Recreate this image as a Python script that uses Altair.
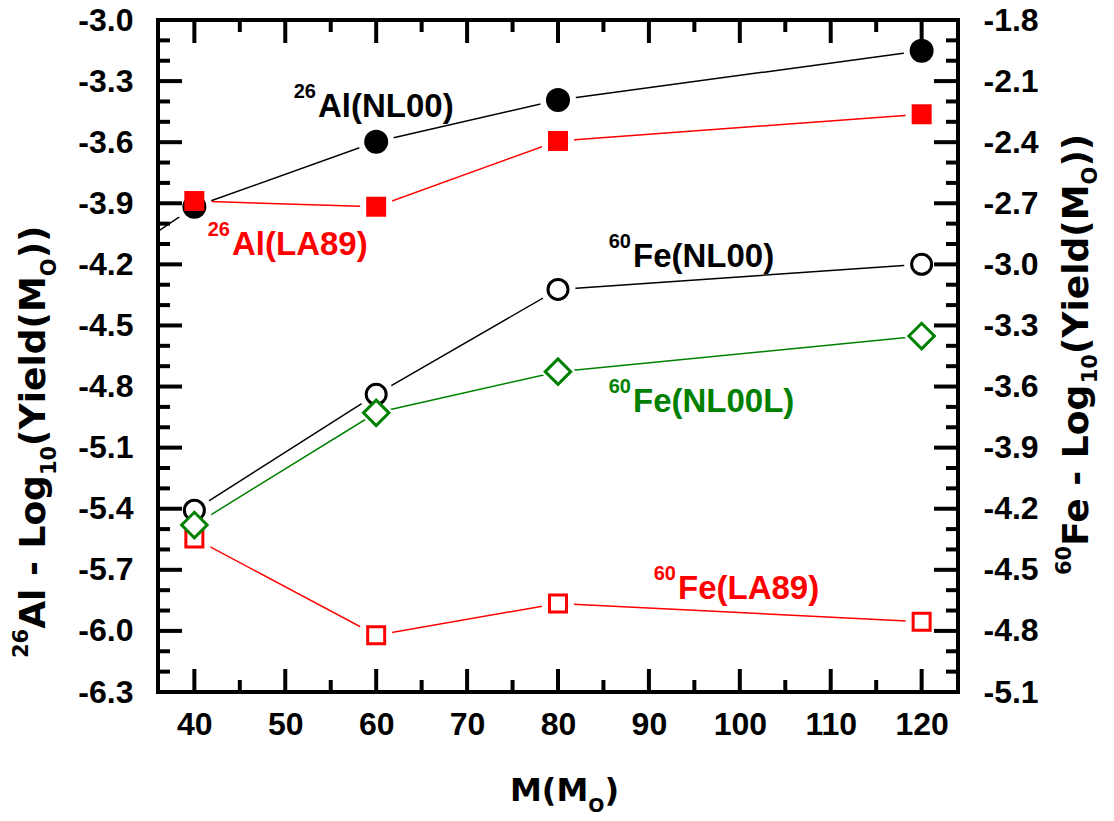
import altair as alt
import pandas as pd

# ---------------- data ----------------
mass = [40, 60, 80, 120]
al_nl00 = [-3.917, -3.598, -3.393, -3.151]
al_la89 = [-3.889, -3.917, -3.594, -3.463]
fe_nl00 = [-4.207, -3.638, -3.123, -3.000]
fe_nl00l = [-4.280, -3.729, -3.527, -3.352]
fe_la89 = [-4.346, -4.821, -4.665, -4.755]
# the 26Al(NL00) curve continues to a lighter star outside the plotted range
al_nl00_lead_mass = [30]
al_nl00_lead = [-4.22]

x_labels = [40, 50, 60, 70, 80, 90, 100, 110, 120]
x_minor = [45, 55, 65, 75, 85, 95, 105, 115]
al_labels = [-6.3, -6.0, -5.7, -5.4, -5.1, -4.8, -4.5, -4.2, -3.9, -3.6, -3.3, -3.0]
fe_labels = [-5.1, -4.8, -4.5, -4.2, -3.9, -3.6, -3.3, -3.0, -2.7, -2.4, -2.1, -1.8]
al_minor = [round(v + d, 1) for v in al_labels[:-1] for d in (0.1, 0.2)]

ann_sup = ["26", "26", "60", "60", "60"]
ann_main = ["Al(NL00)", "Al(LA89)", "Fe(NL00)", "Fe(NL00L)", "Fe(LA89)"]
ann_mass = [53.6, 44.14, 88.25, 88.25, 93.2]
ann_y = [-3.476, -4.154, -4.213, -4.925, -5.843]

# ---------------- style / layout ----------------
W, H = 800, 672
FONT = "Liberation Sans"
TFONT = "DejaVu Sans"
BLACK, RED, GREEN = "#000000", "#ff0000", "#008000"

al_line = pd.DataFrame({
    "series": ["NL00"] * (len(mass) + 1) + ["LA89"] * len(mass),
    "mass": al_nl00_lead_mass + mass + mass,
    "value": al_nl00_lead + al_nl00 + al_la89,
})
fe_line = pd.DataFrame({
    "series": ["NL00"] * 4 + ["LA89"] * 4 + ["NL00L"] * 4,
    "mass": mass * 3,
    "value": fe_nl00 + fe_la89 + fe_nl00l,
})


def pts(values):
    return pd.DataFrame({"mass": mass, "value": values})


ann = pd.DataFrame({"sup": ann_sup, "main": ann_main, "mass": ann_mass, "y": ann_y,
                    "key": ["a", "b", "c", "d", "e"]})

xs = alt.Scale(domain=[36, 124], nice=False, zero=False)
ys_al = alt.Scale(domain=[-6.3, -3.0], nice=False, zero=False)
ys_fe = alt.Scale(domain=[-5.1, -1.8], nice=False, zero=False)

lab_expr = "replace(format(datum.value, '.1f'), '\u2212', '-')"
common_axis = dict(labelFont=FONT, labelFontWeight="bold", labelFontSize=32,
                   labelColor="black", ticks=False, domain=False, grid=False,
                   labelFlush=False, labelOverlap=False)
xaxis = alt.Axis(values=x_labels, labelPadding=17, labelAngle=0, **common_axis)
left_axis = alt.Axis(orient="left", values=al_labels, labelExpr=lab_expr,
                     labelPadding=25, **common_axis)
right_axis = alt.Axis(orient="right", values=fe_labels, labelExpr=lab_expr,
                      labelPadding=25, **common_axis)


def X(field="mass:Q"):
    return alt.X(field, scale=xs, axis=xaxis, title=None)


# lines
al_lines = alt.Chart(al_line).mark_line(strokeWidth=1.5, clip=True).encode(
    x=X(), y=alt.Y("value:Q", scale=ys_al, axis=left_axis, title=None),
    color=alt.Color("series:N", scale=alt.Scale(domain=["NL00", "LA89"], range=[BLACK, RED]),
                    legend=None),
    order="mass:Q")
fe_lines = alt.Chart(fe_line).mark_line(strokeWidth=1.5, clip=True).encode(
    x=X(), y=alt.Y("value:Q", scale=ys_fe, axis=right_axis, title=None),
    color=alt.Color("series:N", scale=alt.Scale(domain=["NL00", "LA89", "NL00L"],
                                                range=[BLACK, RED, GREEN]), legend=None),
    order="mass:Q")


def halo(values, yscale, shape, size):
    return alt.Chart(pts(values)).mark_point(
        filled=True, color="white", opacity=1, shape=shape, size=size).encode(
        x=X(), y=alt.Y("value:Q", scale=yscale, axis=None))


def solid(values, yscale, shape, size, color):
    return alt.Chart(pts(values)).mark_point(
        filled=True, color=color, opacity=1, shape=shape, size=size).encode(
        x=X(), y=alt.Y("value:Q", scale=yscale, axis=None))


def hollow(values, yscale, shape, size, color):
    return alt.Chart(pts(values)).mark_point(
        filled=False, stroke=color, fill="white", strokeWidth=3, opacity=1,
        shape=shape, size=size).encode(
        x=X(), y=alt.Y("value:Q", scale=yscale, axis=None))


halos = [
    halo(al_nl00, ys_al, "circle", 1296), halo(al_la89, ys_al, "square", 1024),
    halo(fe_nl00, ys_fe, "circle", 1225), halo(fe_la89, ys_fe, "square", 1024),
    halo(fe_nl00l, ys_fe, "diamond", 1300),
]
symbols = [
    solid(al_nl00, ys_al, "circle", 576, BLACK), solid(al_la89, ys_al, "square", 400, RED),
    hollow(fe_nl00, ys_fe, "circle", 400, BLACK), hollow(fe_la89, ys_fe, "square", 289, RED),
    hollow(fe_nl00l, ys_fe, "diamond", 650, GREEN),
]

# inward ticks on all four sides
ymaj = pd.DataFrame({"v": al_labels})
ymin = pd.DataFrame({"v": al_minor})
xmaj = pd.DataFrame({"v": x_labels})
xmin = pd.DataFrame({"v": x_minor})
TW = 4


def yticks(df, x0, x1):
    return alt.Chart(df).mark_rule(strokeWidth=TW, color="black").encode(
        y=alt.Y("v:Q", scale=ys_al, axis=None), x=alt.value(x0), x2=alt.value(x1))


def xticks(df, y0, y1):
    return alt.Chart(df).mark_rule(strokeWidth=TW, color="black").encode(
        x=X("v:Q"), y=alt.value(y0), y2=alt.value(y1))


ticks = [
    yticks(ymaj, 0, 24), yticks(ymin, 0, 12), yticks(ymaj, W - 24, W), yticks(ymin, W - 12, W),
    xticks(xmaj, 0, 23), xticks(xmin, 0, 12), xticks(xmaj, H, H - 23), xticks(xmin, H, H - 12),
]

# curve labels
ann_color = alt.Color("key:N", scale=alt.Scale(domain=["a", "b", "c", "d", "e"],
                                               range=[BLACK, RED, BLACK, GREEN, RED]), legend=None)
ann_main_l = alt.Chart(ann).mark_text(font=FONT, fontWeight="bold", fontSize=33, align="left",
                                      baseline="alphabetic").encode(
    x=X(), y=alt.Y("y:Q", scale=ys_al, axis=None), text="main:N", color=ann_color)
ann_sup_l = alt.Chart(ann).mark_text(font=FONT, fontWeight="bold", fontSize=20, align="right",
                                     baseline="alphabetic", dx=-2, dy=-19).encode(
    x=X(), y=alt.Y("y:Q", scale=ys_al, axis=None), text="sup:N", color=ann_color)

# axis titles with super/subscripts, laid out piece by piece
DV = {' ': .348, '-': .415, '(': .457, ')': .457, '0': .696, '1': .696, '2': .696, '6': .696,
      'A': .774, 'F': .683, 'L': .637, 'M': .995, 'O': .850, 'Y': .724, 'd': .716, 'e': .678,
      'g': .716, 'i': .343, 'l': .343, 'o': .687}


def tw(s, fs):
    return sum(DV[c] for c in s) * fs


rows = []


def vtitle(pieces, bx, by, fm=36, fsm=21, up=17, down=11):
    cum = 0.0
    for txt, kind in pieces:
        fs = fm if kind == "main" else fsm
        off = -up if kind == "sup" else (down if kind == "sub" else 0)
        rows.append({"text": txt, "px": bx + off, "py": by - cum, "fs": fs, "ang": 270})
        cum += tw(txt, fs)


def htitle(pieces, sx, by, fm=32, fsm=19, down=11):
    cum = 0.0
    for txt, kind in pieces:
        fs = fm if kind == "main" else fsm
        rows.append({"text": txt, "px": sx + cum, "py": by + (down if kind == "sub" else 0),
                     "fs": fs, "ang": 0})
        cum += tw(txt, fs)


vtitle([("26", "sup"), ("Al - Log", "main"), ("10", "sub"), ("(Yield(M", "main"),
        ("O", "sub"), ("))", "main")], -113, 638)
vtitle([("60", "sup"), ("Fe - Log", "main"), ("10", "sub"), ("(Yield(M", "main"),
        ("O", "sub"), ("))", "main")], 930, 555, down=9)
htitle([("M(M", "main"), ("O", "sub"), (")", "main")], 352, 781)
titles = alt.Chart(pd.DataFrame(rows)).mark_text(
    font=TFONT, fontWeight="bold", align="left", baseline="alphabetic", color="black").encode(
    x=alt.X("px:Q", scale=None), y=alt.Y("py:Q", scale=None), text="text:N",
    size=alt.Size("fs:Q", scale=None), angle=alt.Angle("ang:Q", scale=None))

chart = alt.layer(
    al_lines, fe_lines, *halos, *symbols, *ticks, ann_main_l, ann_sup_l, titles
).resolve_scale(
    y="independent", color="independent"
).properties(
    width=W, height=H,
    autosize=alt.AutoSizeParams(type="none"),
    padding={"left": 150, "top": 12, "right": 148, "bottom": 121},
).configure_view(stroke="black", strokeWidth=4)

chart.save("out.html", embed_options={"renderer": "svg", "actions": False})
